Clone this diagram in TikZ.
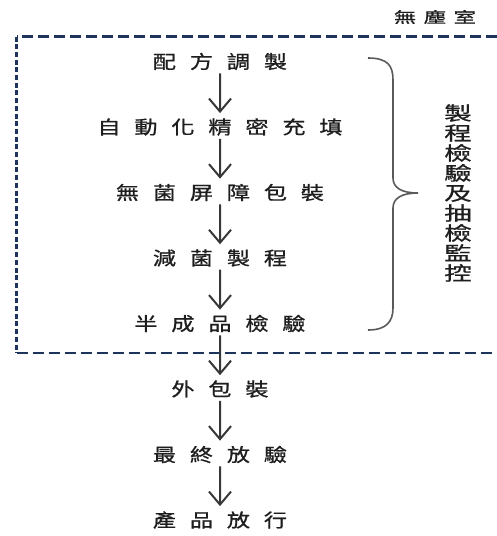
\documentclass[tikz,border=0pt]{standalone}
\usepackage{fontspec}
\setmainfont{Noto Sans CJK TC}
\newfontfamily\cjkstep[LetterSpace=60,FakeBold=0.8]{Noto Sans CJK TC}
\newfontfamily\cjkroom[LetterSpace=33,FakeBold=0.6]{Noto Sans CJK TC}
\newfontfamily\cjkside[FakeBold=0.8]{Noto Sans CJK TC}
\newcommand\sidefont{\cjkside\fontsize{19pt}{20pt}\selectfont\setlength{\lineskiplimit}{-20pt}}
\usepackage{tikz}
\usetikzlibrary{arrows.meta}
\usetikzlibrary{positioning}
\definecolor{txtgray}{RGB}{30,30,30}
\definecolor{arrgray}{RGB}{55,55,55}
\definecolor{bracegray}{RGB}{90,90,90}
\definecolor{roomblue}{RGB}{31,52,92}

\begin{document}
\begin{tikzpicture}[x=1pt,y=-1pt,
		stepbox/.style={font=\cjkstep\fontsize{18.5pt}{18.5pt}\selectfont,text=txtgray,xscale=1.25,inner sep=0pt},
		flow/.style={draw=arrgray,line width=2pt,shorten <=3pt,shorten >=5pt,
			-{Straight Barb[length=13pt,width=22pt]}},
		roomline/.style={draw=roomblue,line width=2.5pt,dash pattern=on 11pt off 5pt}]
		\useasboundingbox (0,0) rectangle (497,536);
		% steps
		\node (mix) [stepbox] at (220,61.5) {配方調製};
		\node (fill) [stepbox,on grid,below=65.5pt of mix] {自動化精密充填};
		\node (barrier) [stepbox,on grid,below=65.5pt of fill] {無菌屏障包裝};
		\node (steril) [stepbox,on grid,below=65.5pt of barrier] {減菌製程};
		\node (semi) [stepbox,on grid,below=65.5pt of steril] {半成品檢驗};
		\node (outer) [stepbox,on grid,below=65.5pt of semi] {外包裝};
		\node (final) [stepbox,on grid,below=65.5pt of outer] {最終放驗};
		\node (release) [stepbox,on grid,below=65.5pt of final] {產品放行};
		\foreach \a/\b in {mix/fill,fill/barrier,barrier/steril,steril/semi,semi/outer,outer/final,final/release}
		\draw[flow] (\a) -- (\b);
		% clean room
		\coordinate (rtop) at (497,36.5);
		\coordinate (ltop) at (16.5,36.5);
		\coordinate (lbot) at (16.5,353);
		\coordinate (rbot) at (497,353);
		\draw[roomline] (rtop) -- (ltop);
		\draw[roomline,dash pattern=on 5pt off 2.7pt] (ltop) -- (lbot);
		\draw[roomline] (lbot) -- (rbot);
		\node (room) [font=\cjkroom\fontsize{15pt}{15pt}\selectfont,text=txtgray,xscale=1.5,inner sep=0pt] at (435,17) {無塵室};
		% brace
		\draw[bracegray,line width=1.6pt] (368,58) .. controls (388,58) and (393,66) .. (393,80) -- (393,178)
			.. controls (393,188) and (402,193) .. (418,193) .. controls (402,193) and (393,198) .. (393,208)
			-- (393,308) .. controls (393,322) and (386,330) .. (368,330);
		\node (qc) [font=\sidefont,text=txtgray,xscale=1.45,inner sep=0pt,align=center] at (458,193)
			{製\\程\\檢\\驗\\及\\抽\\檢\\監\\控};
	\end{tikzpicture}
\end{document}
